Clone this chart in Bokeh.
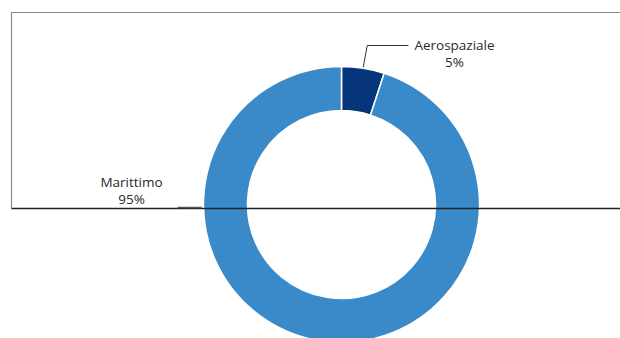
import math
from bokeh.plotting import figure
from bokeh.models import Range1d, ColumnDataSource
from bokeh.core.properties import value
from bokeh.embed import file_html
from bokeh.resources import INLINE

categories = ["Aerospaziale", "Marittimo"]
shares = [5, 95]
share_labels = ["5%", "95%"]
colors = ["#06357A", "#3A8AC9"]

W, H = 620, 338
def X(px): return px
def Y(py): return H - py

p = figure(width=W, height=H, output_backend="svg", toolbar_location=None,
           x_range=Range1d(0, W), y_range=Range1d(0, H), min_border=0)
p.axis.visible = False
p.grid.visible = False
p.outline_line_color = None
p.background_fill_color = "white"
p.border_fill_color = "white"

# frame (top & left gray)
p.line([X(622), X(11), X(11)], [Y(12), Y(12), Y(208)], line_color="#8a8a8a", line_width=1.2)

cx, cy = X(341), Y(204)
r_out, r_in = 138, 94
total = sum(shares)
starts, ends, mids = [], [], []
cur = math.pi / 2
for s in shares:
    a = 2 * math.pi * s / total
    end = cur
    start = cur - a
    starts.append(start)
    ends.append(end)
    mids.append((start + end) / 2)
    cur = start

src = ColumnDataSource(dict(start=starts, end=ends, color=colors, cat=categories))
p.annular_wedge(x=cx, y=cy, inner_radius=r_in, outer_radius=r_out,
                start_angle="start", end_angle="end", fill_color="color",
                line_color="white", line_width=1.5, source=src)

# bottom frame line (over donut)
p.line([X(11), X(622)], [Y(208), Y(208)], line_color="#222222", line_width=1.3)

# leader lines
m0 = mids[0]
sx, sy = cx + (r_out + 1) * math.cos(m0), cy + (r_out + 1) * math.sin(m0)
p.line([sx, sx + 4, X(408)], [sy, Y(45), Y(45)], line_color="#333333", line_width=1)
p.line([X(177), X(201)], [Y(207), Y(207)], line_color="#555555", line_width=1.5)

font = value("Open Sans")
p.text(x=[X(454), X(454)], y=[Y(44), Y(61)], text=[categories[0], share_labels[0]],
       text_font=font, text_font_size="13.5px", text_color="#2a2a2a",
       text_align="center", text_baseline="middle")
p.text(x=[X(131), X(131)], y=[Y(181), Y(198)], text=[categories[1], share_labels[1]],
       text_font=font, text_font_size="13.5px", text_color="#2a2a2a",
       text_align="center", text_baseline="middle")

open("out.html", "w").write(file_html(p, INLINE))
